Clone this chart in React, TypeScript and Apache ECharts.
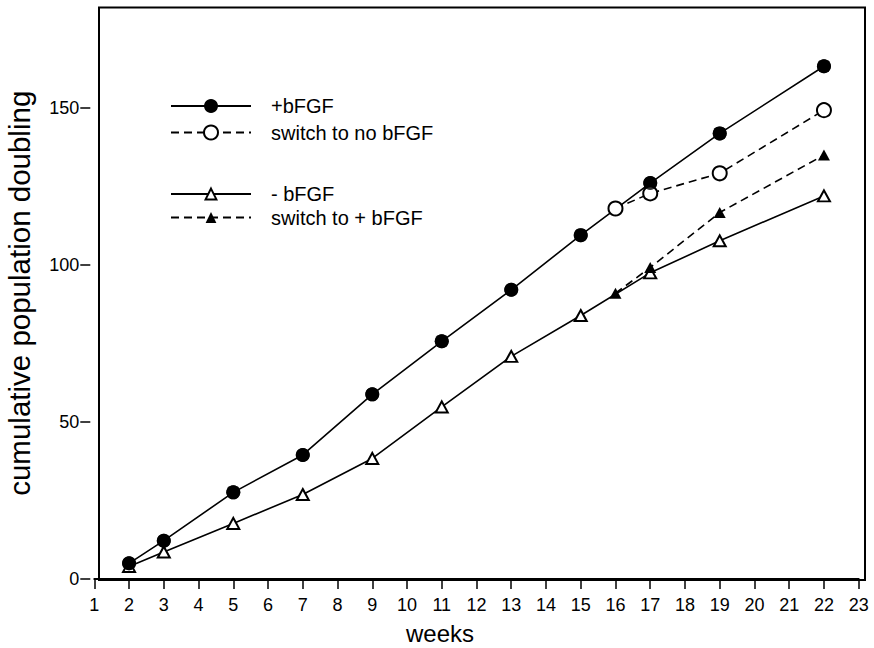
import React, { useEffect, useRef } from "react";
import * as echarts from "echarts";

// weeks
const weeksMain = [2, 3, 5, 7, 9, 11, 13, 15, 17, 19, 22];
const weeksSwitch = [16, 17, 19, 22];
// cumulative population doubling
const plusBFGF = [5.0, 12.2, 27.6, 39.5, 58.8, 75.7, 92.1, 109.5, 126.1, 141.9, 163.3];
const switchToNo = [118.0, 122.8, 129.2, 149.3];
const minusBFGF = [4.0, 8.6, 17.7, 26.9, 38.4, 54.8, 70.9, 83.9, 97.5, 107.7, 122.0];
const switchToPlus = [91.0, 99.2, 116.7, 135.0];

const xTicks = Array.from({ length: 23 }, (_, i) => i + 1);
const yTicks = [0, 50, 100, 150];

const FONT = "'Liberation Sans', Arial, Helvetica, sans-serif";

const pairs = (xs: number[], ys: number[]) => xs.map((x, i) => [x, ys[i]]);

export default function App() {
  const ref = useRef<HTMLDivElement>(null);
  useEffect(() => {
    if (!ref.current) return;
    const chart = echarts.init(ref.current, null, { renderer: "svg" });
    const solid = { color: "#000", width: 1.6, type: "solid" as const };
    const dashed = { color: "#000", width: 1.6, type: [8, 5] as any };
    chart.setOption({
      animation: false,
      backgroundColor: "#fff",
      textStyle: { fontFamily: FONT, color: "#000" },
      grid: {
        left: 94.3,
        right: 15.3,
        top: 7.5,
        bottom: 69,
        containLabel: false,
        outerBoundsMode: "none",
      },
      legend: [
        {
          data: ["+bFGF", "switch to no bFGF"],
          orient: "vertical",
          left: 165,
          top: 91,
          itemWidth: 80,
          itemHeight: 17.5,
          itemGap: 6.5,
          selectedMode: false,
          textStyle: { fontSize: 20, color: "#000", fontFamily: FONT, padding: [0, 0, 0, 15] },
        },
        {
          data: ["- bFGF", "switch to + bFGF"],
          orient: "vertical",
          left: 165,
          top: 179,
          itemWidth: 80,
          itemHeight: 13.5,
          itemGap: 3.5,
          selectedMode: false,
          textStyle: { fontSize: 20, color: "#000", fontFamily: FONT, padding: [0, 0, 0, 15] },
        },
      ],
      xAxis: {
        type: "value",
        min: 1,
        max: 23,
        interval: 1,
        name: "weeks",
        nameLocation: "middle",
        nameGap: 42,
        nameTextStyle: { fontSize: 24, color: "#000", fontFamily: FONT, padding: [0, 73, 0, 0] },
        axisLine: { show: true, lineStyle: { color: "#000", width: 2 } },
        axisTick: { show: true, length: 10, lineStyle: { color: "#000", width: 1.5 }, customValues: xTicks },
        axisLabel: { fontSize: 18, color: "#000", margin: 17, fontFamily: FONT, customValues: xTicks },
        splitLine: { show: false },
      },
      yAxis: {
        type: "value",
        min: 0,
        max: 182,
        offset: 4,
        name: "cumulative population doubling",
        nameLocation: "middle",
        nameGap: 56,
        nameTextStyle: { fontSize: 29.5, color: "#000", fontFamily: FONT },
        axisLine: { show: false },
        axisTick: { show: true, length: 10, lineStyle: { color: "#000", width: 1.5 }, customValues: yTicks },
        axisLabel: { fontSize: 18, color: "#000", margin: 11, fontFamily: FONT, customValues: yTicks },
        splitLine: { show: false },
      },
      graphic: [
        {
          type: "rect",
          z: 0,
          silent: true,
          shape: { x: 99, y: 7.5, width: 766, height: 572.5 },
          style: { fill: "none", stroke: "#000", lineWidth: 2 },
        },
      ],
      series: [
        {
          name: "- bFGF",
          type: "line",
          data: pairs(weeksMain, minusBFGF),
          symbol: "emptyTriangle",
          symbolSize: [12, 11],
          lineStyle: solid,
          itemStyle: { color: "#000", borderColor: "#000", borderWidth: 1.5 },
          z: 2,
        },
        {
          name: "+bFGF",
          type: "line",
          data: pairs(weeksMain, plusBFGF),
          symbol: "circle",
          symbolSize: 14,
          lineStyle: solid,
          itemStyle: { color: "#000" },
          z: 2,
        },
        {
          name: "switch to + bFGF",
          type: "line",
          data: pairs(weeksSwitch, switchToPlus),
          symbol: "triangle",
          symbolSize: [12, 11],
          lineStyle: dashed,
          itemStyle: { color: "#000" },
          z: 3,
        },
        {
          name: "switch to no bFGF",
          type: "line",
          data: pairs(weeksSwitch, switchToNo),
          symbol: "emptyCircle",
          symbolSize: 14,
          lineStyle: dashed,
          itemStyle: { color: "#000", borderColor: "#000", borderWidth: 1.5 },
          z: 3,
        },
        {
          name: "+bFGF markers",
          type: "scatter",
          data: pairs(weeksMain, plusBFGF),
          symbol: "circle",
          symbolSize: 14,
          itemStyle: { color: "#000" },
          z: 4,
        },
      ],
    });
    return () => chart.dispose();
  }, []);
  return <div ref={ref} style={{ width: 874, height: 648, position: "absolute", left: 0, top: 0 }} />;
}
